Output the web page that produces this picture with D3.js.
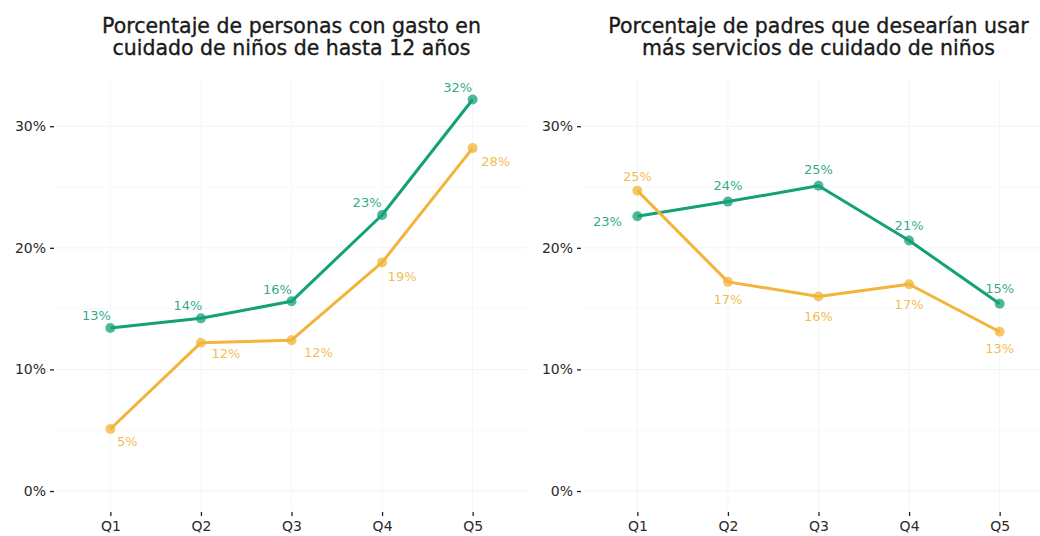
<!DOCTYPE html>
<html><head><meta charset="utf-8">
<script src="https://cdn.jsdelivr.net/npm/d3@7"></script>
<style>
body{margin:0;background:#fff;}
text{font-family:"DejaVu Sans",sans-serif;}
</style></head>
<body><svg id="c" width="1040" height="536"></svg>
<script>
const categories = ["Q1","Q2","Q3","Q4","Q5"];
const yTicks = [0, 0.1, 0.2, 0.3];
const titles = [
  ["Porcentaje de personas con gasto en", "cuidado de niños de hasta 12 años"],
  ["Porcentaje de padres que desearían usar", "más servicios de cuidado de niños"]
];
// panel 1: gasto en cuidado
const p1Green  = [0.134, 0.142, 0.156, 0.227, 0.322];
const p1Yellow = [0.051, 0.122, 0.124, 0.188, 0.282];
// panel 2: desearían usar más servicios
const p2Green  = [0.226, 0.238, 0.251, 0.206, 0.154];
const p2Yellow = [0.247, 0.172, 0.160, 0.170, 0.131];

// label offsets (layout only)
const off1Green  = [[-14,-13],[-13,-13],[-14,-12],[-15,-13],[-15,-12]];
const off1Yellow = [[17,12],[25,11],[27,12],[20,14],[23,13]];
const off2Green  = [[-30,5],[0,-16],[0,-16],[0,-15],[0,-15]];
const off2Yellow = [[0,-14],[0,18],[0,20],[0,20],[0,17]];

const GREEN = "#13a178", YELLOW = "#f2b43a";
const svg = d3.select("#c");
const y = d3.scaleLinear().domain([-0.0161, 0.338]).range([510.6, 80]);
const fmt = d3.format(".0%");

const panels = [
  {x0:56, x1:527, title:titles[0], series:[{v:p1Green,c:GREEN,o:off1Green},{v:p1Yellow,c:YELLOW,o:off1Yellow}]},
  {x0:583, x1:1054, title:titles[1], series:[{v:p2Green,c:GREEN,o:off2Green},{v:p2Yellow,c:YELLOW,o:off2Yellow}]}
];

panels.forEach(p=>{
  const x = d3.scalePoint().domain(categories).range([p.x0,p.x1]).padding(0.6);
  const g = svg.append("g");
  // grid
  const minor = [0.05,0.15,0.25];
  g.selectAll(".mn").data(minor).join("line")
    .attr("x1",p.x0).attr("x2",p.x1).attr("y1",d=>y(d)).attr("y2",d=>y(d))
    .attr("stroke","#f8f8f8").attr("stroke-width",1);
  g.selectAll(".mj").data(yTicks).join("line")
    .attr("x1",p.x0).attr("x2",p.x1).attr("y1",d=>y(d)).attr("y2",d=>y(d))
    .attr("stroke","#f3f3f3").attr("stroke-width",1);
  g.selectAll(".vg").data(categories).join("line")
    .attr("x1",d=>x(d)).attr("x2",d=>x(d)).attr("y1",80).attr("y2",510.6)
    .attr("stroke","#f5f5f5").attr("stroke-width",1);
  // y axis
  const ya = d3.axisLeft(y).tickValues(yTicks).tickFormat(d3.format(".0%")).tickSize(4).tickPadding(4);
  const yg = g.append("g").attr("transform",`translate(${p.x0-2},0)`).call(ya);
  yg.select(".domain").remove();
  yg.selectAll("line").attr("stroke","#222").attr("stroke-width",1.3);
  yg.selectAll("text").attr("fill","#2a2a2a").style("font-size","14px");
  // x axis
  const xa = d3.axisBottom(x).tickSize(4).tickPadding(5);
  const xg = g.append("g").attr("transform",`translate(0,512)`).call(xa);
  xg.select(".domain").remove();
  xg.selectAll("line").attr("stroke","#222").attr("stroke-width",1.3);
  xg.selectAll("text").attr("fill","#2a2a2a").style("font-size","14px");
  // title
  const cx = x("Q3");
  p.title.forEach((t,i)=>{
    g.append("text").attr("x",cx).attr("y",33+i*22).attr("text-anchor","middle")
      .style("font-size","20.5px").attr("fill","#1a1a1a")
      .attr("stroke","#1a1a1a").attr("stroke-width",0.35).text(t);
  });
  // series
  const line = d3.line().x((d,i)=>x(categories[i])).y(d=>y(d));
  p.series.forEach(s=>{
    g.append("path").datum(s.v).attr("d",line).attr("fill","none")
      .attr("stroke",s.c).attr("stroke-width",3).attr("stroke-linejoin","round");
    g.selectAll(null).data(s.v).join("circle")
      .attr("cx",(d,i)=>x(categories[i])).attr("cy",d=>y(d)).attr("r",5)
      .attr("fill",s.c).attr("fill-opacity",0.75);
    g.selectAll(null).data(s.v).join("text")
      .attr("x",(d,i)=>x(categories[i])+s.o[i][0]).attr("y",(d,i)=>y(d)+s.o[i][1])
      .attr("dy","0.35em").attr("text-anchor","middle")
      .style("font-size","13px").attr("fill",s.c).attr("fill-opacity",0.9)
      .text(d=>fmt(d));
  });
});
</script></body></html>
